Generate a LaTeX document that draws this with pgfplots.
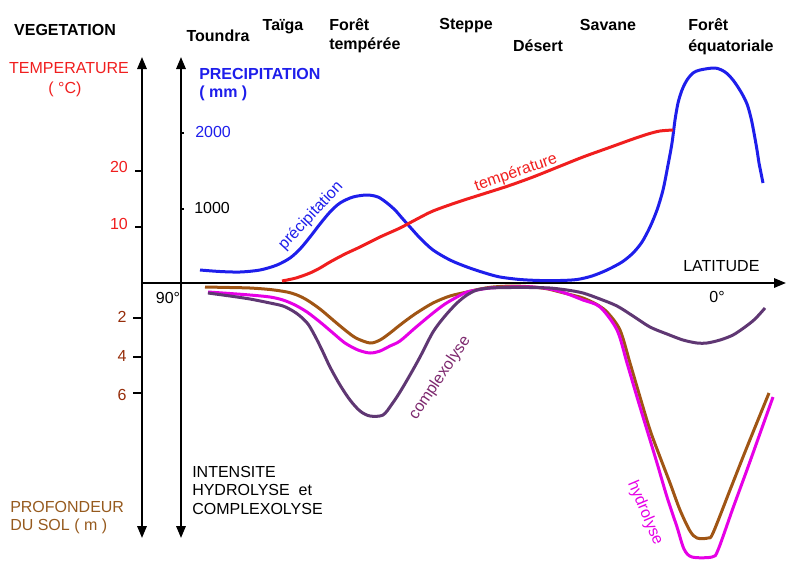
\documentclass[border=0pt]{standalone}
\usepackage{pgfplots}
\pgfplotsset{compat=1.18}
\usepackage{fontspec}
\setmainfont{Liberation Sans}
\usetikzlibrary{arrows.meta}

\definecolor{pblue}{RGB}{30,30,235}
\definecolor{tred}{RGB}{240,30,30}
\definecolor{soilbrown}{RGB}{160,85,20}
\definecolor{hmag}{RGB}{230,0,230}
\definecolor{cpurp}{RGB}{95,55,115}
\definecolor{ctext}{RGB}{125,40,110}
\definecolor{depthred}{RGB}{150,45,10}
\definecolor{proflab}{RGB}{150,90,30}

\tikzset{veg/.style={font=\fontsize{12}{14}\selectfont\bfseries}}

\begin{document}
\begin{tikzpicture}[font=\fontsize{12}{14}\selectfont]
% the whole picture is laid out in the reference's pixel grid
\begin{axis}[
    scale only axis, width=601.5pt, height=432pt,
    xmin=0, xmax=802, ymin=0, ymax=576, y dir=reverse,
    hide axis, clip=false,
    curve/.style={line width=2.25pt, smooth, no marks},
]
\path (axis cs:0,0) rectangle (axis cs:802,576);

% axes
\draw[line width=1.6pt, {Triangle[width=7pt,length=9pt]}-{Triangle[width=7pt,length=9pt]}] (axis cs:142,57) -- (axis cs:142,538);
\draw[line width=1.6pt, {Triangle[width=7pt,length=9pt]}-{Triangle[width=7pt,length=9pt]}] (axis cs:181,57) -- (axis cs:181,538);
\draw[line width=1.6pt, -{Triangle[width=7pt,length=9pt]}] (axis cs:142,283) -- (axis cs:786,283);

% ticks
\draw[line width=1pt] (axis cs:135,171) -- (axis cs:142,171);
\draw[line width=1pt] (axis cs:135,227) -- (axis cs:142,227);
\draw[line width=1pt] (axis cs:133,318) -- (axis cs:142,318);
\draw[line width=1pt] (axis cs:133,357) -- (axis cs:142,357);
\draw[line width=1pt] (axis cs:133,393) -- (axis cs:142,393);
\draw[line width=0.8pt] (axis cs:181,133) -- (axis cs:184,133);
\draw[line width=0.8pt] (axis cs:181,209) -- (axis cs:184,209);

% precipitation
\addplot[curve, pblue] coordinates {
(200,270) (220,271.5) (240,272) (260,270) (277,265) (290,258) (300,249) (310,237)
(320,224) (330,212) (340,203) (353,197) (367,195) (378,197) (387,203) (395,210)
(402,218) (410,227) (420,238) (433,250) (450,260) (467,267) (485,273) (500,277)
(520,279.5) (540,280.5) (560,280.5) (577,279.5) (592,276) (607,270) (622,262)
(633,253) (642,242) (650,227) (657,210) (663,190) (668,165) (672,143) (675,120)
(678,103) (682,90) (687,80) (693,73) (700,70) (715,68) (725,72) (733,80) (741,92)
(747,104) (751,118) (754,133) (757,150) (759,163) (761,173) (763,183)};

% temperature
\addplot[curve, tred] coordinates {
(282,281) (296,278) (310,273) (320,268) (330,262) (345,254) (360,247) (380,237)
(400,228) (417,219) (433,211) (458,202) (483,194) (508,186) (533,177) (558,167)
(583,157) (608,148) (633,139) (648,134) (660,131) (673,130)};

% soil depth
\addplot[curve, soilbrown] coordinates {
(205,287) (230,287.5) (250,288) (270,289.5) (287,292) (297,295) (307,300) (320,309)
(333,320) (345,330) (356,338) (370,343) (380,340) (390,333) (400,325) (415,314)
(433,303) (450,296) (467,292) (480,289) (493,287) (513,286) (533,287) (548,289)
(560,292) (572,295) (583,298) (596,304) (607,312) (620,330) (630,363) (640,397)
(650,430) (660,457) (670,483) (680,510) (690,531) (697,538) (708,538) (713,533)
(730,490) (745,452) (760,415) (769,393)};

% hydrolyse
\addplot[curve, hmag] coordinates {
(208,292) (230,293.5) (250,295) (270,297) (283,300) (295,305) (307,312) (320,322)
(333,333) (345,343) (358,350) (370,353) (380,351) (390,346) (400,341) (415,328)
(433,313) (445,304) (457,297) (467,292) (477,290) (490,288) (510,287) (533,287)
(550,289) (565,293) (583,300) (600,307) (617,330) (627,363) (637,397) (647,430)
(657,463) (667,497) (677,527) (684,549) (692,557) (712,557) (718,550)
(733,508) (748,467) (763,425) (773,397)};

% complexolyse
\addplot[curve, cpurp] coordinates {
(208,293) (230,296) (250,299) (270,303) (283,306) (293,311) (300,316) (308,324)
(315,336) (322,350) (330,367) (340,385) (350,400) (360,411) (370,416) (383,415)
(392,404) (400,392) (410,375) (420,357) (433,332) (445,316) (457,303) (467,295)
(477,290) (490,288) (510,287.5) (530,287.5) (550,288) (567,290) (583,293) (600,299)
(617,306) (633,316) (650,327) (667,334) (683,340) (697,343) (707,343) (720,340)
(733,335) (745,327) (755,319) (765,308)};

% curve labels
\node[pblue, rotate=47, inner sep=0pt] at (axis cs:311,216) {précipitation};
\node[tred, rotate=19, inner sep=0pt] at (axis cs:516,173) {température};
\node[ctext, rotate=56, inner sep=0pt] at (axis cs:440,378) {complexolyse};
\node[hmag, rotate=-67, inner sep=0pt] at (axis cs:645,513) {hydrolyse};

% vegetation
\node[veg, anchor=mid] at (axis cs:65,32) {VEGETATION};
\node[veg, anchor=mid] at (axis cs:218,38) {Toundra};
\node[veg, anchor=mid] at (axis cs:283,27) {Taïga};
\node[veg, anchor=mid west, inner sep=0pt] at (axis cs:329,27) {Forêt};
\node[veg, anchor=mid west, inner sep=0pt] at (axis cs:329,46) {tempérée};
\node[veg, anchor=mid] at (axis cs:466,26) {Steppe};
\node[veg, anchor=mid] at (axis cs:538,48) {Désert};
\node[veg, anchor=mid] at (axis cs:608,27) {Savane};
\node[veg, anchor=mid west, inner sep=0pt] at (axis cs:688,27) {Forêt};
\node[veg, anchor=mid west, inner sep=0pt] at (axis cs:688,48) {équatoriale};

% axis titles
\node[tred, anchor=mid] at (axis cs:69,70) {TEMPERATURE};
\node[tred, anchor=mid] at (axis cs:65,90) {( °C)};
\node[pblue, veg, anchor=mid west, inner sep=0pt] at (axis cs:199,76) {PRECIPITATION};
\node[pblue, veg, anchor=mid west, inner sep=0pt] at (axis cs:199,94) {( mm )};
\node[anchor=mid west, inner sep=0pt] at (axis cs:683,268) {LATITUDE};
\node[anchor=mid] at (axis cs:168,300) {90°};
\node[anchor=mid] at (axis cs:717,299) {0°};
\node[anchor=mid west, inner sep=0pt] at (axis cs:192,474) {INTENSITE};
\node[anchor=mid west, inner sep=0pt] at (axis cs:192,492) {HYDROLYSE\ \ et};
\node[anchor=mid west, inner sep=0pt] at (axis cs:192,511) {COMPLEXOLYSE};
\node[proflab, anchor=mid west, inner sep=0pt] at (axis cs:10,509) {PROFONDEUR};
\node[proflab, anchor=mid west, inner sep=0pt] at (axis cs:10,527) {DU SOL ( m )};

% tick labels
\node[tred, anchor=mid] at (axis cs:119,169) {20};
\node[tred, anchor=mid] at (axis cs:119,226) {10};
\node[pblue, anchor=mid west, inner sep=0pt] at (axis cs:195,134) {2000};
\node[anchor=mid west, inner sep=0pt] at (axis cs:194,210) {1000};
\node[depthred, anchor=mid] at (axis cs:122,319) {2};
\node[depthred, anchor=mid] at (axis cs:122,358) {4};
\node[depthred, anchor=mid] at (axis cs:122,397) {6};
\end{axis}
\end{tikzpicture}
\end{document}
